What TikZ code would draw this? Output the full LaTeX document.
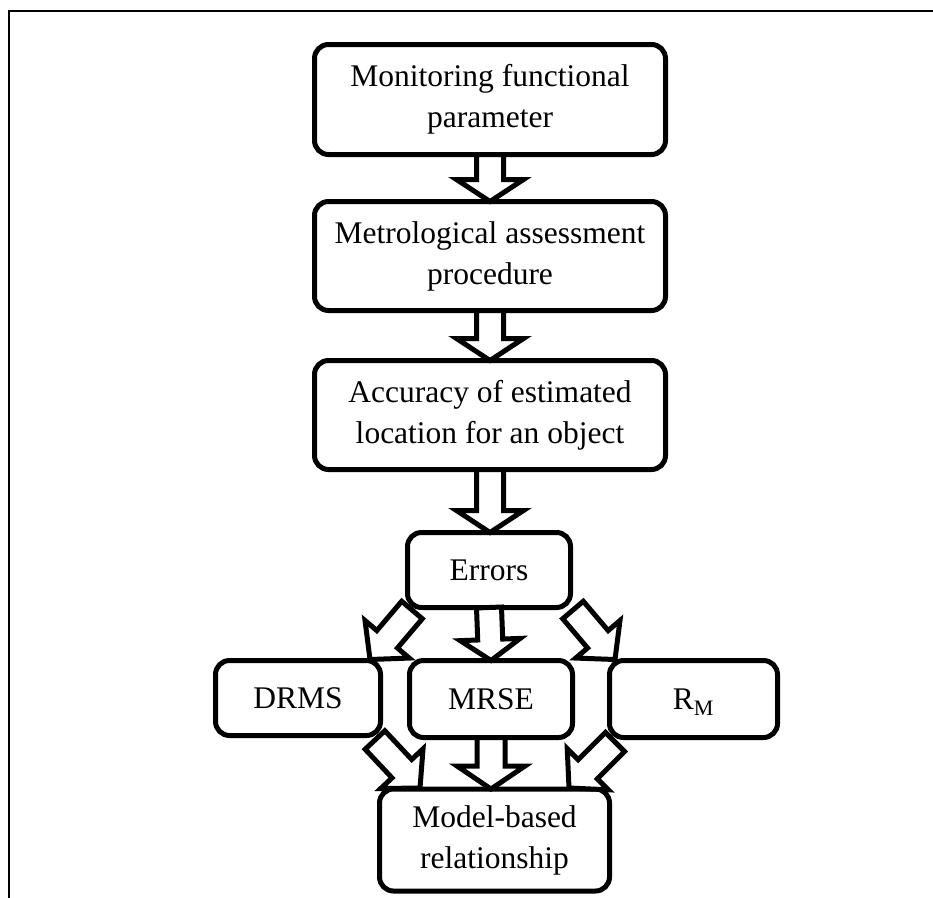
\documentclass[tikz,border=0pt]{standalone}
\usepackage{fontspec}
\setmainfont{Liberation Serif}
\usetikzlibrary{calc}
\tikzset{
  box/.style={draw, line width=5pt, rounded corners=14pt, outer sep=0pt, inner sep=0pt,
    align=center, font=\fontsize{31.5}{41}\selectfont, fill=white},
  oneline/.style={text height=21pt, text depth=0pt},
  barrow/.style={draw, line width=5pt, fill=white, line join=miter, miter limit=10},
  frameline/.style={draw, line width=2.2pt}
}
% #1 tail, #2 tip, #3 shaft half width, #4 head half width, #5 head length
\newcommand\blockarr[5]{%
  \coordinate (ba-h) at ($(#2)!#5!(#1)$);
  \draw[barrow] ($(#1)!#3!90:(#2)$) -- ($(ba-h)!#3!-90:(#1)$) -- ($(ba-h)!#4!-90:(#1)$) -- (#2)
    -- ($(ba-h)!#4!90:(#1)$) -- ($(ba-h)!#3!90:(#1)$) -- ($(#1)!#3!-90:(#2)$) -- cycle;
}
\begin{document}
\begin{tikzpicture}[x=1pt, y=-1pt]
\useasboundingbox (0,0) rectangle (933,897);
\draw[frameline] (9,900) -- (9,11) -- (935,11);

\node[box, minimum width=351pt, minimum height=110pt] (b1) at (490,99.5) {Monitoring functional\\parameter};
\node[box, minimum width=351pt, minimum height=109pt] (b2) at (490,256) {Metrological assessment\\procedure};
\node[box, minimum width=351pt, minimum height=109pt] (b3) at (490,415) {Accuracy of estimated\\location for an object};
\node[box, oneline, minimum width=163pt, minimum height=75pt] (err) at (489,570) {Errors};
\node[box, oneline, minimum width=165pt, minimum height=75pt] (drms) at (298,698) {DRMS};
\node[box, oneline, minimum width=163pt, minimum height=77pt] (mrse) at (491,699) {MRSE};
\node[box, oneline, minimum width=168pt, minimum height=77pt] (rm) at (693.5,699) {R\textsubscript{M}};
\node[box, minimum width=230pt, minimum height=102pt] (model) at (494.5,840) {Model-based\\relationship};

% vertical block arrows
\coordinate (t3) at (b3.south |- err.north);
\coordinate (t5) at (mrse.south |- model.north);
\blockarr{b1.south}{b2.north}{13.5pt}{33.5pt}{22pt}
\blockarr{b2.south}{b3.north}{13.5pt}{33.5pt}{22pt}
\blockarr{b3.south}{t3}{13.5pt}{33.5pt}{22pt}
\blockarr{err.south}{mrse.north}{12.5pt}{30pt}{21pt}
\blockarr{mrse.south}{t5}{14pt}{34pt}{23pt}

% diagonal block arrows
\coordinate (d1a) at ($(err.south west)+(4.5,2.5)$);
\coordinate (d1b) at ($(drms.north east)+(-10.5,-1)$);
\coordinate (d2a) at ($(err.south east)+(2.5,2.5)$);
\coordinate (d2b) at ($(rm.north west)+(5.5,-1)$);
\coordinate (d3a) at ($(drms.south east)+(-5.5,4.5)$);
\coordinate (d3b) at ($(model.north west)+(40.5,-1)$);
\coordinate (d4a) at ($(rm.south west)+(5.5,4.5)$);
\coordinate (d4b) at ($(model.north east)+(-40.5,-1)$);
\blockarr{d1a}{d1b}{13.5pt}{29pt}{26.5pt}
\blockarr{d2a}{d2b}{13.5pt}{29pt}{26.5pt}
\blockarr{d3a}{d3b}{13.5pt}{29pt}{26.5pt}
\blockarr{d4a}{d4b}{13.5pt}{29pt}{26.5pt}
\end{tikzpicture}
\end{document}
